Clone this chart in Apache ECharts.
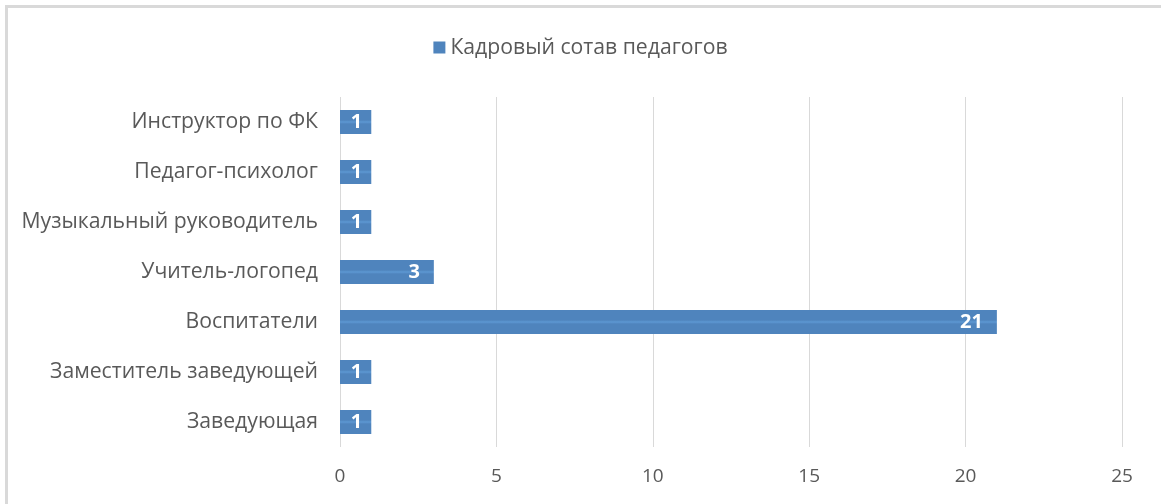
<!DOCTYPE html>
<html>
<head>
<meta charset="utf-8">
<script src="https://cdn.jsdelivr.net/npm/echarts@6/dist/echarts.min.js"></script>
<style>
  html, body { margin: 0; padding: 0; background: #fff; }
  #frame { position: absolute; left: 5px; top: 5px; width: 1170px; height: 520px; border: 3px solid #d9d9d9; box-sizing: border-box; }
  #chart { position: absolute; left: 0; top: 0; width: 1161px; height: 504px; }
</style>
</head>
<body>
<div id="frame"></div>
<div id="chart"></div>
<script>
// категории снизу вверх
const categories = ['Заведующая', 'Заместитель заведующей', 'Воспитатели', 'Учитель-логопед',
  'Музыкальный руководитель', 'Педагог-психолог', 'Инструктор по ФК']
const values = [1, 1, 21, 3, 1, 1, 1]
const seriesName = 'Кадровый сотав педагогов'

const chart = echarts.init(document.getElementById('chart'))
const font = 'Open Sans, sans-serif'

// узкие столбики: подпись ближе к краю, как в Excel
const barData = values.map(v => ({
  value: v,
  label: { distance: v < 2 ? 9 : 14 }
}))

const option = {
  animation: false,
  textStyle: { fontFamily: font },
  legend: {
    top: 32,
    left: 'center',
    itemWidth: 12,
    itemHeight: 12,
    icon: 'rect',
    itemGap: 5,
    itemStyle: { color: '#4f84bd' },
    textStyle: { fontSize: 21.2, color: '#595959', fontFamily: font },
    data: [seriesName]
  },
  grid: {
    left: 340,
    right: 39,
    top: 97,
    bottom: 57
  },
  xAxis: {
    type: 'value',
    min: 0,
    max: 25,
    interval: 5,
    axisLine: { show: false },
    axisTick: { show: false },
    axisLabel: { fontSize: 19, color: '#595959', margin: 20 },
    splitLine: { lineStyle: { color: '#d9d9d9', width: 1 } }
  },
  yAxis: {
    type: 'category',
    data: categories,
    axisLine: { show: false },
    axisTick: { show: false },
    axisLabel: { fontSize: 21.2, color: '#595959', margin: 22 }
  },
  series: [{
    name: seriesName,
    type: 'bar',
    data: barData,
    barWidth: 24,
    itemStyle: {
      color: new echarts.graphic.LinearGradient(0, 0, 0, 1, [
        { offset: 0, color: '#4f84bd' },
        { offset: 0.42, color: '#4f84bd' },
        { offset: 0.5, color: '#5d98d3' },
        { offset: 0.58, color: '#4f84bd' },
        { offset: 1, color: '#4f84bd' }
      ])
    },
    label: {
      show: true,
      position: 'insideRight',
      distance: 14,
      color: '#fff',
      fontWeight: 'bold',
      fontSize: 20
    }
  }]
}
chart.setOption(option)
</script>
</body>
</html>
